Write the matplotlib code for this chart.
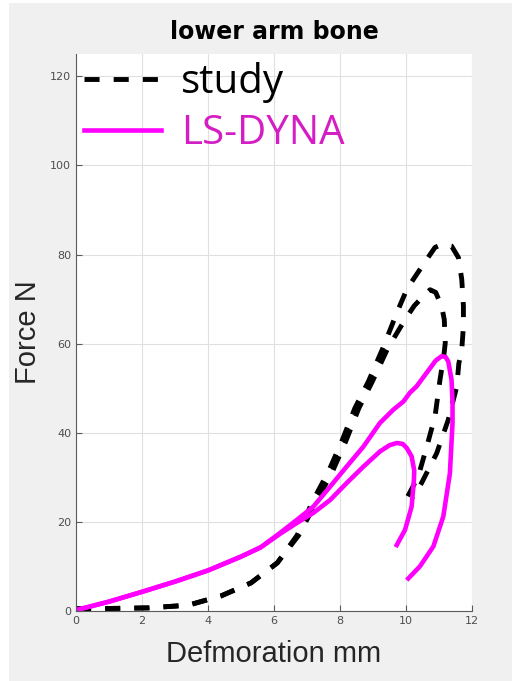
import numpy as np
import matplotlib
matplotlib.use('Agg')
import matplotlib.pyplot as plt
from matplotlib.patches import Rectangle

# study (experiment) - two loading/unloading loops
study1_x = [0.0, 0.3, 1.3, 2.2, 3.4, 4.4, 5.3, 6.1, 6.7, 7.19, 7.65, 8.05, 8.45, 8.86, 9.3,
            9.72, 10.02, 10.22, 10.5, 10.73, 10.88, 11.1, 11.38, 11.59, 11.69, 11.74, 11.74,
            11.69, 11.6, 11.54, 11.28, 10.93, 10.47, 10.2]
study1_y = [0.5, 0.5, 0.6, 0.7, 1.3, 3.4, 6.3, 10.8, 17.0, 24.9, 31.3, 38.0, 45.5, 51.5, 59.0,
            66.9, 72.1, 74.4, 77.5, 80.0, 81.6, 82.3, 81.9, 79.3, 74.4, 68.4, 63.9,
            58.7, 55.5, 50.4, 42.9, 35.4, 28.7, 25.5]
study2_x = [0.0, 0.3, 1.3, 2.2, 3.4, 4.4, 5.3, 6.1, 6.75, 7.31, 7.77, 8.17, 8.57, 8.98, 9.45,
            9.97, 10.25, 10.52, 10.73, 10.9, 11.08, 11.16, 11.19, 11.15, 11.03, 10.88, 10.63,
            10.37, 9.87]
study2_y = [0.5, 0.5, 0.6, 0.7, 1.3, 3.4, 6.3, 10.8, 17.0, 24.9, 31.3, 38.0, 45.5, 51.5, 59.0,
            65.4, 68.5, 70.6, 72.1, 71.5, 68.4, 65.4, 60.2, 57.5, 51.9, 43.7, 36.9,
            30.2, 23.1]

# LS-DYNA simulation - two curves
dyna1_x = [0.0, 1.0, 2.0, 3.0, 4.0, 5.0, 5.6, 6.18, 6.7, 7.19, 7.7, 8.2, 8.71, 9.21, 9.62,
           9.92, 10.12, 10.32, 10.73, 10.9, 11.08, 11.2, 11.28, 11.38, 11.41, 11.41, 11.33,
           11.13, 10.83, 10.42, 10.07]
dyna1_y = [0.2, 2.1, 4.3, 6.6, 9.1, 12.2, 14.3, 17.5, 20.5, 23.4, 27.9, 32.4, 36.9, 42.2, 45.2,
           47.0, 49.0, 50.4, 54.5, 56.2, 57.2, 57.0, 56.0, 51.9, 47.0, 42.2, 30.9,
           21.2, 14.5, 10.0, 7.3]
dyna2_x = [0.0, 1.0, 2.0, 3.0, 4.0, 5.0, 5.6, 6.18, 6.7, 7.19, 7.7, 8.2, 8.71, 9.21, 9.5,
           9.72, 9.9, 10.02, 10.17, 10.25, 10.24, 10.17, 9.97, 9.72]
dyna2_y = [0.2, 2.1, 4.3, 6.6, 9.1, 12.2, 14.3, 17.3, 19.8, 22.0, 24.9, 28.7, 32.4, 35.8, 37.2,
           37.7, 37.5, 36.6, 34.7, 31.5, 29.4, 23.4, 18.2, 14.8]

x_ticks = [0, 2, 4, 6, 8, 10, 12]
y_ticks = [0, 20, 40, 60, 80, 100, 120]

fig = plt.figure(figsize=(5.12, 6.81), dpi=100, facecolor='white')
fig.patches.append(Rectangle((9 / 512, 0), 1, 1 - 3 / 681, transform=fig.transFigure,
                             facecolor='#f0f0f0', edgecolor='none', zorder=-10))
ax = fig.add_axes([76 / 512, 70 / 681, 396 / 512, 557 / 681])
ax.set_facecolor('white')

dash = (0, (3.1, 2.9))
ax.plot(study1_x, study1_y, color='black', lw=3.5, ls=dash, label='study')
ax.plot(study2_x, study2_y, color='black', lw=3.5, ls=dash)
ax.plot(dyna1_x, dyna1_y, color='#ff00ff', lw=3.3, label='LS-DYNA')
ax.plot(dyna2_x, dyna2_y, color='#ff00ff', lw=3.3)

ax.set_xlim(0, 12)
ax.set_ylim(0, 125)
ax.set_xticks(x_ticks)
ax.set_yticks(y_ticks)
ax.grid(True, color='#e0e0e0', lw=0.8)
ax.set_axisbelow(True)
ax.tick_params(direction='in', length=4, color='#5a5a5a', labelsize=8,
               labelcolor='#4d4d4d', top=False, right=False)
for side in ['top', 'right']:
    ax.spines[side].set_visible(False)
for side in ['left', 'bottom']:
    ax.spines[side].set_color('#5a5a5a')

font = 'Liberation Sans'
ax.set_xlabel('Defmoration mm', fontsize=21, family=font, color='#262626', labelpad=10)
ax.set_ylabel('Force N', fontsize=21, family=font, color='#262626', labelpad=6)
ax.set_title('lower arm bone', fontsize=17, fontweight='bold', family='DejaVu Sans', pad=11)

leg = ax.legend(loc='upper left', frameon=False, handlelength=1.9,
                borderaxespad=0.0, borderpad=0.2, handletextpad=0.5, labelspacing=0.25,
                prop={'family': 'Open Sans', 'size': 29})
leg.get_texts()[1].set_color('#d41ec4')

fig.savefig('out.png', dpi=100, facecolor=fig.get_facecolor())
